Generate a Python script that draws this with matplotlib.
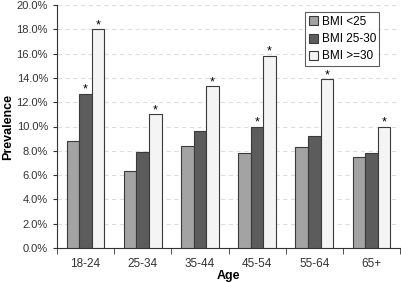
import matplotlib
matplotlib.use("Agg")
import matplotlib.pyplot as plt
import numpy as np
from matplotlib.ticker import FuncFormatter

# data
ages = ["18-24", "25-34", "35-44", "45-54", "55-64", "65+"]
bmi_low = [8.8, 6.3, 8.4, 7.8, 8.3, 7.5]
bmi_mid = [12.7, 7.9, 9.6, 10.0, 9.2, 7.8]
bmi_high = [18.0, 11.0, 13.3, 15.8, 13.9, 10.0]
star_mid = [True, False, False, True, False, False]
star_high = [True, True, True, True, True, True]
labels = ["BMI <25", "BMI 25-30", "BMI >=30"]
colors = ["#a3a3a3", "#5c5c5c", "#f4f4f4"]

plt.rcParams['font.family'] = ['Liberation Sans', 'DejaVu Sans']

fig = plt.figure(figsize=(4.01, 2.82), dpi=100)
ax = fig.add_axes([57 / 401, 1 - 248 / 282, 343 / 401, 243 / 282])

x = np.arange(len(ages))
w = 0.22
series = [bmi_low, bmi_mid, bmi_high]
for i, (vals, c, lab) in enumerate(zip(series, colors, labels)):
    ax.bar(x + (i - 1) * w, vals, w, color=c, edgecolor="#3a3a3a",
           linewidth=0.8, label=lab, zorder=3)

for xi, v, s in zip(x, bmi_mid, star_mid):
    if s:
        ax.text(xi, v - 0.15, "*", ha="center", va="bottom", fontsize=9)
for xi, v, s in zip(x + w, bmi_high, star_high):
    if s:
        ax.text(xi, v - 0.15, "*", ha="center", va="bottom", fontsize=9)

ax.set_xlim(-0.5, len(ages) - 0.5)
ax.set_ylim(0, 20)
ax.set_yticks(np.arange(0, 21, 2))
ax.yaxis.set_major_formatter(FuncFormatter(lambda v, p: f"{v:.1f}%"))
ax.set_xticks(x)
ax.set_xticklabels(ages)
ax.set_xticks(np.arange(-0.5, len(ages)), minor=True)
ax.tick_params(axis="x", which="major", length=0, pad=7, labelsize=8.5, colors="#333333")
ax.tick_params(axis="x", which="minor", length=4, color="#333333")
ax.tick_params(axis="y", length=3, labelsize=8, colors="#333333")

ax.yaxis.grid(True, linestyle=(0, (4, 3)), color="#dddddd", linewidth=0.8, zorder=0)
for sp in ["top", "right"]:
    ax.spines[sp].set_visible(False)
for sp in ["left", "bottom"]:
    ax.spines[sp].set_color("#333333")

ax.set_ylabel("Prevalence", fontsize=9, fontweight="bold", labelpad=2)
ax.set_xlabel("Age", fontsize=9, fontweight="bold", labelpad=0)

leg = ax.legend(loc="upper right", bbox_to_anchor=(0.94, 0.97), fontsize=8.5,
                frameon=True, fancybox=False, edgecolor="#333333",
                handlelength=0.8, handleheight=0.8, handletextpad=0.3,
                borderpad=0.3, labelspacing=0.45, borderaxespad=0)
leg.get_frame().set_linewidth(0.8)

fig.savefig("out.png", dpi=100)
